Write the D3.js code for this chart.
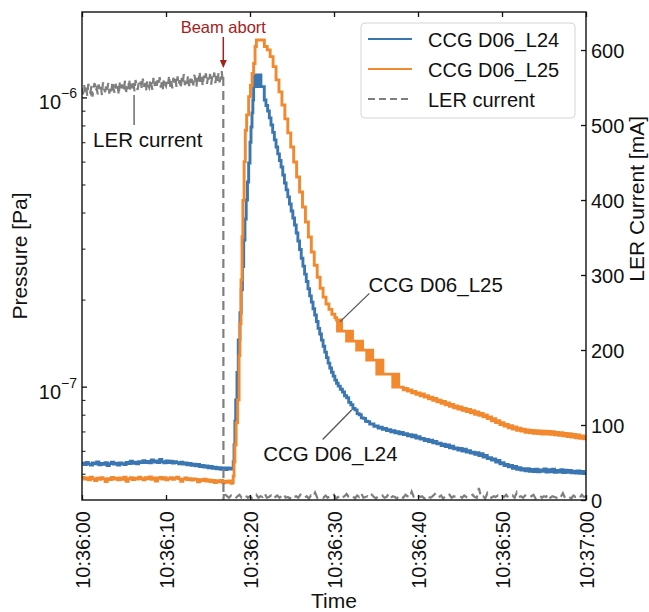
<!DOCTYPE html>
<html>
<head>
<meta charset="utf-8">
<script src="https://cdn.jsdelivr.net/npm/d3@7"></script>
<style>
  html, body { margin: 0; padding: 0; background: #fff; }
  svg { display: block; }
</style>
</head>
<body>
<svg id="chart" width="649" height="612"></svg>
<script>
// ---------- data ----------
// Pressures are in units of 1e-8 Pa; times in seconds after 10:36:00.
// Evenly sampled stretches are stored as plain value lists with their start time and sample step.
const P_UNIT = 1e-8;
const timeTicks = [0, 10, 20, 30, 40, 50, 60];
const pressureTicks = [1e-7, 1e-6];
const currentTicks = [0, 100, 200, 300, 400, 500, 600];
const seriesNames = ["CCG D06_L24", "CCG D06_L25", "LER current"];
const abortTime = 16.82;

// CCG D06_L24: before the abort, every 0.25 s from 0 s
const l24Before = [
  5.44,5.38,5.47,5.40,5.36,5.45,5.41,5.49,5.37,5.43,5.39,5.46,5.34,5.42,5.48,5.40,
  5.44,5.36,5.45,5.41,5.38,5.47,5.42,5.52,5.43,5.48,5.41,5.50,5.46,5.55,5.47,5.51,
  5.45,5.58,5.49,5.53,5.47,5.60,5.50,5.45,5.53,5.47,5.52,5.44,5.50,5.46,5.41,5.48,
  5.40,5.45,5.37,5.43,5.35,5.39,5.33,5.38,5.29,5.34,5.27,5.32,5.24,5.30,5.22,5.27,
  5.20,5.25,5.18,5.24,5.17,5.23,5.19,5.22
];
// CCG D06_L24: pressure burst, [time, value]
const l24Burst = [
  [17.9,5.20],[18.0,5.5],[18.1,6.3],[18.2,7.6],[18.3,9.0],[18.45,11.2],[18.6,14.5],[18.8,18.0],[18.95,21.6],
  [19.1,26.0],[19.25,32.1],[19.4,38.0],[19.55,44.2],[19.7,51.0],[19.84,59.3],[20.0,70],[20.12,79],[20.24,88.4],
  [20.34,98],[20.43,109],
  [20.55,119.6],[20.65,109],[20.75,119.6],[20.85,109],[20.95,119.6],[21.05,109],[21.15,119.6],[21.3,109],
  [21.7,98.0],[21.9,93.8],[22.1,89.8],[22.3,85.0],[22.5,80.3],[22.7,75.7],[22.9,71.3],[23.1,67.4],[23.3,63.8],
  [23.5,60.5],[23.7,57.5],[23.9,53.9],[24.1,50.6],[24.3,47.9],[24.5,45.3],[24.7,42.8],[24.9,40.5],[25.1,38.3],
  [25.3,36.2],[25.5,34.0],[25.7,31.9],[25.9,29.8],[26.1,27.8],[26.3,26.1],[26.5,24.5],[26.7,23.1],[26.9,21.8],
  [27.1,20.6],[27.3,19.6],[27.5,18.6],[27.7,17.7],[27.9,16.8],[28.1,15.9],[28.3,15.2],[28.5,14.48],[28.7,13.8],
  [28.9,13.16],[29.1,12.6],[29.3,12.06],[29.5,11.6],[29.7,11.22],[29.9,10.87],[30.1,10.53],[30.3,10.28],
  [30.5,10.04],[30.75,9.80]
];
// CCG D06_L24: recovery, every 0.25 s from 31 s
const l24Tail = [
  9.58,9.30,9.15,8.82,8.66,8.40,8.31,8.07,8.00,7.80,7.77,7.59,7.57,7.42,7.43,7.29,
  7.31,7.19,7.24,7.12,7.17,7.05,7.10,6.98,7.04,6.93,6.99,6.87,6.94,6.83,6.88,6.76,
  6.82,6.71,6.79,6.64,6.71,6.59,6.62,6.51,6.57,6.46,6.53,6.39,6.46,6.34,6.37,6.26,
  6.33,6.21,6.29,6.15,6.22,6.10,6.14,6.04,6.11,5.99,6.08,5.94,6.01,5.89,5.94,5.84,
  5.91,5.78,5.86,5.71,5.78,5.64,5.68,5.57,5.62,5.49,5.56,5.41,5.46,5.34,5.38,5.28,
  5.34,5.22,5.30,5.18,5.25,5.15,5.20,5.12,5.20,5.10,5.17,5.09,5.18,5.08,5.15,5.10,
  5.19,5.07,5.16,5.08,5.18,5.06,5.13,5.07,5.16,5.05,5.14,5.06,5.13,5.04,5.10,5.03,
  5.11,5.02,5.09,5.01,5.08
];

// CCG D06_L25: before the abort, every 0.25 s from 0 s
const l25Before = [
  4.85,4.79,4.83,4.76,4.86,4.80,4.74,4.82,4.78,4.84,4.80,4.70,4.81,4.77,4.85,4.79,
  4.82,4.76,4.83,4.78,4.86,4.71,4.80,4.84,4.77,4.82,4.79,4.86,4.81,4.76,4.84,4.80,
  4.87,4.78,4.83,4.72,4.82,4.85,4.79,4.84,4.76,4.81,4.84,4.78,4.82,4.86,4.80,4.71,
  4.79,4.83,4.77,4.81,4.75,4.80,4.78,4.69,4.77,4.74,4.79,4.72,4.76,4.70,4.74,4.66,
  4.73,4.69,4.74,4.65,4.71,4.67,4.72,4.63
];
// CCG D06_L25: pressure burst and the quantised readout staircase, [time, value]
const l25Burst = [
  [17.9,4.66],[18.0,4.9],[18.1,5.5],[18.2,6.3],[18.35,7.5],[18.53,9.0],[18.7,12.8],[18.8,16.5],[18.93,23.4],
  [19.05,33],[19.15,44],[19.3,60],[19.44,77],[19.6,87],[19.84,100.6],[20.05,110],[20.25,121],[20.43,131],
  [20.6,150],[20.76,158],
  [21.71,150],[22.05,146.0],[22.4,138.4],[22.75,127.8],[23.1,115.0],[23.45,104.5],[23.8,94.2],[24.15,84.3],
  [24.5,75.4],[24.85,67.4],[25.2,59.8],[25.55,53.1],[25.9,47.1],[26.25,41.8],[26.6,37.1],[26.95,32.9],
  [27.3,29.2],[27.65,26.3],[28.0,23.9],[28.35,21.9],[28.7,20.4],[29.05,19.3],[29.4,18.5],[29.75,17.8],[30.1,17.3],
  [30.3,17.0],[30.42,15.56],[30.54,17.0],[30.66,15.56],[30.78,17.0],[30.9,15.56],
  [31.5,14.37],[31.62,15.56],[31.74,14.37],[31.86,15.56],[31.98,14.37],[32.1,15.56],[32.2,14.37],
  [32.7,13.37],[32.82,14.37],[32.94,13.37],[33.06,14.37],[33.18,13.37],[33.3,14.37],[33.4,13.37],
  [33.9,12.35],[34.02,13.37],[34.14,12.35],[34.26,13.37],[34.38,12.35],[34.5,13.37],[34.6,12.35],
  [35.1,11.05],[35.22,12.35],[35.34,11.05],[35.46,12.35],[35.58,11.05],[35.7,12.35],[35.82,11.05],
  [37.0,9.96],[37.12,11.05],[37.24,9.96],[37.36,11.05],[37.48,9.96],[37.6,11.05],[37.7,9.96]
];
// CCG D06_L25: recovery, every 0.25 s from 38 s
const l25Tail = [
  9.95,9.76,9.86,9.66,9.74,9.52,9.62,9.41,9.52,9.30,9.44,9.20,9.31,9.08,9.20,8.97,
  9.10,8.86,8.97,8.75,8.88,8.66,8.78,8.55,8.68,8.45,8.58,8.37,8.50,8.29,8.41,8.20,
  8.34,8.12,8.25,8.03,8.17,7.96,8.08,7.86,7.99,7.76,7.86,7.62,7.75,7.52,7.63,7.39,
  7.51,7.31,7.40,7.21,7.33,7.14,7.25,7.07,7.19,7.02,7.12,6.95,7.09,6.93,7.05,6.90,
  7.04,6.88,7.03,6.86,7.01,6.85,7.00,6.84,6.99,6.82,6.95,6.79,6.93,6.76,6.89,6.72,
  6.88,6.70,6.83,6.66,6.81,6.63,6.76,6.60,6.72
];

// LER beam current in mA: stored beam, every 0.125 s from 0 s
const lerBefore = [
  549,541,553,544,551,539,555,546, 543,552,538,550,556,545,549,541,
  554,546,551,540,557,548,544,553, 547,556,542,551,545,558,549,543,
  555,546,552,540,557,549,554,545, 550,559,544,553,548,561,546,555,
  549,557,545,560,551,547,556,552, 558,548,562,551,556,545,559,553,
  550,561,554,547,563,552,558,549, 560,553,564,550,557,548,562,555,
  552,561,555,566,551,559,549,563, 556,562,551,565,554,560,549,563,
  557,568,553,561,555,566,552,562, 556,564,553,567,559,551,566,558,
  571,557,564,552,566,560,569,555, 563,558,568,554,565,561,570,556,
  566,559,569,557,564,572,560
];
// LER beam current at the abort, [time, mA]
const lerAbort = [[16.82,565],[16.84,0],[16.9,11]];
// LER beam current after the abort, every 0.25 s from 17 s
const lerAfter = [
  8,5,3,6,4,2,5,7,3,4,6,3, 5,2,4,7,3,5,4,9,3,4,6,2,
  4,6,3,5,8,3,4,2,6,4,5,3, 7,4,3,5,2,6,4,10,3,5,4,3,
  6,3,5,4,7,2,4,6,3,5,8,4, 3,5,2,6,4,9,3,4,5,3,7,4,
  2,5,4,6,3,4,8,3,5,4,2,6, 4,3,7,5,3,11,4,3,6,4,5,2,
  6,4,3,5,8,3,4,6,2,5,4,7, 3,5,4,5,5,3,6,4,3,5,7,4,
  3,16,4,5,2,9,4,3,5,4,6,3, 5,4,7,3,4,6,3,10,4,5,3,6,
  4,3,5,7,2,4,6,3,5,4,8,3, 5,4,3,6,4,9,3,5,4,2,6,4,
  5,3,7,4,5
];

// ---------- layout ----------
const FONT = '"Liberation Sans", Arial, Helvetica, sans-serif';
const X0 = 82, X1 = 586, Y0 = 12, Y1 = 500;
const COLORS = ["#3a76b1", "#f3892f", "#7f7f7f"];
const ANNOT_RED = "#a3221b";

const sampled = (vals, start, step) => vals.map((v, i) => [start + i * step, v]);
const l24 = [...sampled(l24Before, 0, 0.25), ...l24Burst, ...sampled(l24Tail, 31, 0.25)];
const l25 = [...sampled(l25Before, 0, 0.25), ...l25Burst, ...sampled(l25Tail, 38, 0.25)];
const lerCurrent = [...sampled(lerBefore, 0, 0.125), ...lerAbort, ...sampled(lerAfter, 17, 0.25)];

const svg = d3.select("#chart").attr("font-family", FONT);

const t0 = Date.UTC(2000, 0, 1, 10, 36, 0);
const toDate = s => new Date(t0 + s * 1000);

const x = d3.scaleUtc().domain([toDate(0), toDate(60)]).range([X0, X1]);
const yP = d3.scaleLog().domain([4.056e-8, 1.974e-6]).range([Y1, Y0]);
const yI = d3.scaleLinear().domain([0, 650.7]).range([Y1, Y0]);

svg.append("defs").append("clipPath").attr("id", "plotclip")
  .append("rect").attr("x", X0).attr("y", Y0).attr("width", X1 - X0).attr("height", Y1 - Y0);

const plot = svg.append("g").attr("clip-path", "url(#plotclip)");

const pLine = d3.line()
  .x(d => x(toDate(d[0])))
  .y(d => yP(d[1] * P_UNIT))
  .curve(d3.curveStepAfter);

plot.append("path").datum(l24).attr("d", pLine)
  .attr("fill", "none").attr("stroke", COLORS[0]).attr("stroke-width", 2.9);
plot.append("path").datum(l25).attr("d", pLine)
  .attr("fill", "none").attr("stroke", COLORS[1]).attr("stroke-width", 2.9);

const iLine = d3.line()
  .x(d => x(toDate(d[0])))
  .y(d => yI(d[1]));

plot.append("path").datum(lerCurrent).attr("d", iLine)
  .attr("fill", "none").attr("stroke", COLORS[2]).attr("stroke-width", 2.2)
  .attr("stroke-dasharray", "9,5");

// ---------- axes ----------
const fmt = d3.utcFormat("%H:%M:%S");

const gx = svg.append("g").attr("transform", `translate(0,${Y1})`)
  .call(d3.axisBottom(x).tickValues(timeTicks.map(toDate)).tickSize(-5).tickFormat(fmt));
gx.select(".domain").remove();
gx.attr("font-family", FONT).attr("font-size", 20);
gx.selectAll(".tick line").attr("stroke", "#111").attr("stroke-width", 1.3);
gx.selectAll(".tick text")
  .attr("x", 0).attr("y", 0).attr("dy", "0.36em")
  .attr("text-anchor", "end").attr("fill", "#111")
  .attr("transform", "translate(0,11) rotate(-90)");

const gxt = svg.append("g").attr("transform", `translate(0,${Y0})`)
  .call(d3.axisTop(x).tickValues(timeTicks.map(toDate)).tickSize(-5).tickFormat(""));
gxt.select(".domain").remove();
gxt.selectAll(".tick line").attr("stroke", "#111").attr("stroke-width", 1.3);

// log pressure axis: major decades plus minor ticks
const gyl = svg.append("g").attr("transform", `translate(${X0},0)`)
  .call(d3.axisLeft(yP).tickValues(pressureTicks).tickSize(-5).tickFormat(""));
gyl.select(".domain").remove();
gyl.selectAll(".tick line").attr("stroke", "#111").attr("stroke-width", 1.3);

const minorVals = [];
[-8, -7, -6].forEach(e => { for (let m = 2; m <= 9; m++) minorVals.push(m * Math.pow(10, e)); });
const [pLo, pHi] = yP.domain();
const gym = svg.append("g").attr("transform", `translate(${X0},0)`)
  .call(d3.axisLeft(yP).tickValues(minorVals.filter(v => v >= pLo && v <= pHi)).tickSize(-3.5).tickFormat(""));
gym.select(".domain").remove();
gym.selectAll(".tick line").attr("stroke", "#111").attr("stroke-width", 1);

const decLabels = svg.append("g").attr("fill", "#111");
pressureTicks.forEach(v => {
  const t = decLabels.append("text")
    .attr("x", X0 - 5).attr("y", yP(v) + 12)
    .attr("text-anchor", "end");
  t.append("tspan").attr("font-size", 20).text("10");
  t.append("tspan").attr("font-size", 14).attr("dy", -11)
    .text("\u2212" + Math.round(-Math.log10(v)));
});

const gyr = svg.append("g").attr("transform", `translate(${X1},0)`)
  .call(d3.axisRight(yI).tickValues(currentTicks).tickSize(-5).tickPadding(5));
gyr.select(".domain").remove();
gyr.attr("font-family", FONT).attr("font-size", 20);
gyr.selectAll(".tick line").attr("stroke", "#111").attr("stroke-width", 1.3);
gyr.selectAll(".tick text").attr("fill", "#111").attr("dy", "0.36em");

// frame
svg.append("rect").attr("x", X0).attr("y", Y0).attr("width", X1 - X0).attr("height", Y1 - Y0)
  .attr("fill", "none").attr("stroke", "#111").attr("stroke-width", 1.4);

// axis titles
svg.append("text").attr("x", (X0 + X1) / 2).attr("y", 608)
  .attr("text-anchor", "middle").attr("font-size", 21).attr("fill", "#111").text("Time");
svg.append("text").attr("transform", `translate(27,${(Y0 + Y1) / 2}) rotate(-90)`)
  .attr("text-anchor", "middle").attr("font-size", 21).attr("fill", "#111").text("Pressure [Pa]");
svg.append("text").attr("transform", `translate(644,116) rotate(-90)`)
  .attr("text-anchor", "end").attr("font-size", 21).attr("fill", "#111").text("LER Current [mA]");

// ---------- annotations ----------
const ann = svg.append("g");
function leader(px, py, dx, dy) {
  ann.append("line").attr("x1", px).attr("y1", py).attr("x2", px + dx).attr("y2", py + dy)
    .attr("stroke", "#555").attr("stroke-width", 1.3);
}
// L25 callout
{
  const px = x(toDate(30.7)), py = yP(16.75 * P_UNIT);
  leader(px, py, 29.5, -28.5);
  ann.append("text").attr("x", px + 28.5).attr("y", py - 30).attr("font-size", 20.5)
    .attr("fill", "#111").text(seriesNames[1]);
}
// L24 callout
{
  const px = x(toDate(32.1)), py = yP(8.3 * P_UNIT);
  leader(px, py, -29, 29.5);
  ann.append("text").attr("x", px - 88.5).attr("y", py + 50.5).attr("font-size", 20.5)
    .attr("fill", "#111").text(seriesNames[0]);
}
// LER current callout
{
  const px = x(toDate(6.2)), py = yI(540);
  leader(px, py, 0, 30);
  ann.append("text").attr("x", px - 41).attr("y", py + 52).attr("font-size", 20.5)
    .attr("fill", "#111").text("LER current");
}
// beam abort arrow
{
  const ax = x(toDate(abortTime));
  const tipY = yI(576);
  ann.append("text").attr("x", ax).attr("y", 33.3).attr("text-anchor", "middle")
    .attr("font-size", 16.5).attr("fill", ANNOT_RED).text("Beam abort");
  ann.append("line").attr("x1", ax).attr("y1", 37).attr("x2", ax).attr("y2", tipY - 6)
    .attr("stroke", ANNOT_RED).attr("stroke-width", 1.5);
  ann.append("path")
    .attr("d", `M${ax - 3.5},${tipY - 8} L${ax + 3.5},${tipY - 8} L${ax},${tipY} Z`)
    .attr("fill", ANNOT_RED);
}

// ---------- legend ----------
const lg = svg.append("g");
lg.append("rect").attr("x", 361).attr("y", 23).attr("width", 214).attr("height", 95).attr("rx", 4)
  .attr("fill", "#fff").attr("fill-opacity", 0.85).attr("stroke", "#d4d4d4").attr("stroke-width", 1);
seriesNames.forEach((name, i) => {
  const cy = 39 + i * 30;
  lg.append("line").attr("x1", 368).attr("x2", 412).attr("y1", cy).attr("y2", cy)
    .attr("stroke", COLORS[i]).attr("stroke-width", 2.2)
    .attr("stroke-dasharray", i === 2 ? "7,4" : null);
  lg.append("text").attr("x", 428).attr("y", cy + 7.5).attr("font-size", 20)
    .attr("fill", "#111").text(name);
});
</script>
</body>
</html>
